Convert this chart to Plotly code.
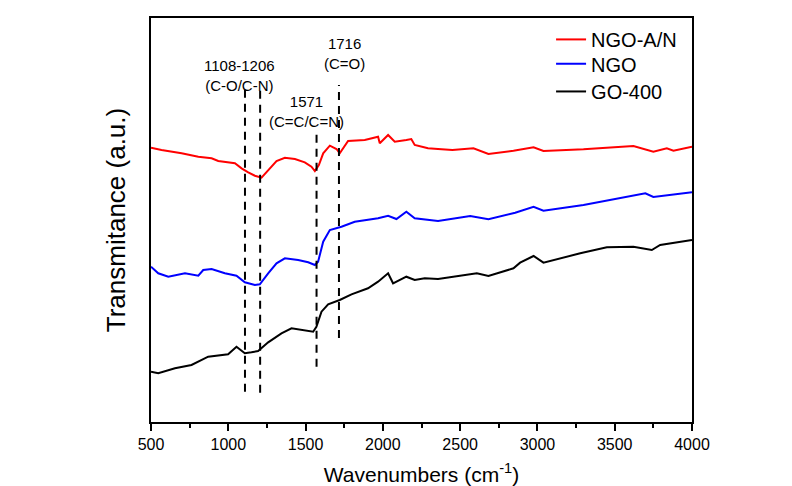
import plotly.graph_objects as go

# FTIR spectra, wavenumber (cm-1) vs transmittance (arbitrary offset units)
ngo_an_x = [500, 568, 698, 806, 892, 935, 1043, 1086, 1129, 1172, 1215, 1258, 1312, 1366, 1431,
            1495, 1538, 1560, 1586, 1614, 1657, 1700, 1721, 1775, 1883, 1969, 1980, 2034, 2077,
            2152, 2184, 2206, 2292, 2357, 2450, 2586, 2683, 2845, 2975, 3039, 3298, 3621, 3750,
            3837, 3880, 4000]
ngo_an_y = [274.3, 272.0, 268.7, 265.3, 263.7, 261.0, 258.7, 253.7, 249.7, 246.3, 244.3, 252.0, 261.0, 264.3, 263.0,
            259.7, 255.3, 251.0, 257.0, 268.7, 276.3, 273.0, 268.7, 281.0, 282.0, 285.3, 278.7, 287.0, 280.3,
            282.0, 283.0, 277.0, 273.7, 273.0, 272.0, 273.7, 268.0, 271.3, 274.7, 271.0, 272.7, 276.0, 270.3,
            273.7, 271.3, 275.3]

ngo_x = [500, 547, 612, 720, 806, 838, 892, 978, 1053, 1107, 1172, 1204, 1258, 1312, 1366, 1452,
         1517, 1560, 1581, 1614, 1657, 1732, 1818, 1969, 2034, 2088, 2152, 2206, 2357, 2565, 2683,
         2856, 2975, 3039, 3298, 3472, 3698, 3750, 4000]
ngo_y = [155.3, 148.7, 145.3, 148.7, 146.3, 152.0, 153.0, 148.7, 146.3, 139.7, 137.0, 137.7, 148.7, 158.7, 163.7, 162.0,
         159.7, 157.0, 160.3, 180.3, 192.0, 195.3, 200.3, 203.7, 206.3, 203.0, 210.3, 203.7, 201.0, 206.0, 202.7,
         209.3, 215.3, 211.3, 217.0, 222.0, 228.7, 225.0, 229.7]

go400_x = [500, 547, 655, 762, 870, 999, 1053, 1107, 1150, 1193, 1258, 1344, 1409, 1495, 1549, 1570,
           1603, 1646, 1721, 1797, 1904, 1969, 2034, 2066, 2152, 2206, 2271, 2357, 2436, 2608, 2683,
           2845, 2888, 2975, 3039, 3277, 3449, 3621, 3740, 3794, 4000]
go400_y = [50.3, 48.7, 53.7, 57.0, 65.3, 67.7, 75.3, 68.7, 69.7, 71.0, 79.7, 88.7, 93.7, 92.0, 90.3, 95.3,
           110.3, 117.7, 122.0, 127.7, 133.7, 140.3, 148.7, 138.7, 145.3, 142.0, 143.7, 143.0, 144.7, 148.7, 146.0,
           153.7, 159.3, 166.0, 159.3, 168.7, 174.7, 175.3, 172.0, 177.0, 182.0]

# band assignments: marker positions and vertical extents of the guide lines
band_pos = [1108, 1206, 1571, 1716]
band_top = [332.0, 332.0, 290.3, 337.0]
band_bottom = [30.3, 29.3, 55.3, 84.0]

# band labels: (text, x, y)
band_labels = [
    ("1108-1206<br>(C-O/C-N)", 1071, 347.0),
    ("1571<br>(C=C/C=N)", 1507, 310.8),
    ("1716<br>(C=O)", 1752, 368.5),
]

x_ticks = [500, 1000, 1500, 2000, 2500, 3000, 3500, 4000]

FONT = "Arial, Liberation Sans, sans-serif"

series = [
    ("NGO-A/N", ngo_an_x, ngo_an_y, "#ff0000", "legend", 0.9470),
    ("NGO", ngo_x, ngo_y, "#0000ff", "legend2", 0.8868),
    ("GO-400", go400_x, go400_y, "#000000", "legend3", 0.8182),
]

fig = go.Figure()

legend_layout = {}
for name, xs, ys, color, leg, ly in series:
    fig.add_trace(go.Scatter(x=xs, y=ys, mode="lines", name=name, legend=leg,
                             line=dict(color=color, width=2)))
    legend_layout[leg] = dict(x=0.7395, y=ly, xanchor="left", yanchor="middle",
                              bgcolor="rgba(0,0,0,0)", borderwidth=0,
                              font=dict(family=FONT, size=20, color="black"))

for xp, yt, yb in zip(band_pos, band_top, band_bottom):
    fig.add_trace(go.Scatter(x=[xp, xp], y=[yb, yt], mode="lines", showlegend=False,
                             hoverinfo="skip",
                             line=dict(color="black", width=2, dash="8px,6px")))

for txt, xa, ya in band_labels:
    fig.add_annotation(x=xa, y=ya, xref="x", yref="y", text=txt, showarrow=False,
                       xanchor="center", yanchor="middle",
                       font=dict(family=FONT, size=15, color="black"))

fig.update_layout(
    width=792, height=486,
    margin=dict(l=150.7, r=100, t=18, b=64.3),
    paper_bgcolor="white", plot_bgcolor="white",
    font=dict(family=FONT, color="black"),
    **legend_layout,
)

fig.update_xaxes(
    range=[500, 4000], tickvals=x_ticks, ticktext=[str(v) for v in x_ticks],
    ticks="outside", ticklen=7, tickwidth=1.5, tickcolor="black",
    ticklabelstandoff=0, automargin=False,
    minor=dict(ticks="outside", ticklen=4, tickwidth=1.5, tickcolor="black", dtick=250),
    showline=True, linecolor="black", linewidth=1.5, mirror=True,
    showgrid=False, zeroline=False,
    tickfont=dict(family=FONT, size=16, color="black"),
    title=dict(text="Wavenumbers (cm<sup>-1</sup>)", standoff=25,
               font=dict(family=FONT, size=21, color="black")),
)

fig.update_yaxes(
    range=[0, 404], showticklabels=False, ticks="", automargin=False,
    showline=True, linecolor="black", linewidth=1.5, mirror=True,
    showgrid=False, zeroline=False,
    title=dict(text="Transmitance (a.u.)", standoff=16,
               font=dict(family=FONT, size=26, color="black")),
)

fig.write_html("out.html")
